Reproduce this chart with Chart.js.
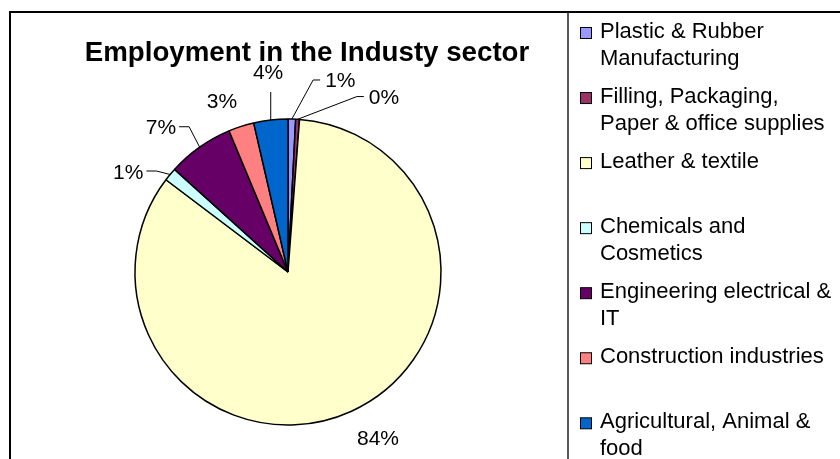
<!DOCTYPE html>
<html>
<head>
<meta charset="utf-8">
<title>Employment in the Industy sector</title>
<script src="https://cdn.jsdelivr.net/npm/chart.js@4.4.0/dist/chart.umd.min.js"></script>
<style>
    html, body { margin: 0; padding: 0; background: #ffffff; }
    #wrap { width: 840px; height: 459px; }
</style>
</head>
<body>
<div id="wrap"><canvas id="myChart" width="840" height="459"></canvas></div>
<script>
var chartTitle = 'Employment in the Industy sector';

// sectors, one entry per slice (legend lines already split)
var sectors = [
    ['Plastic & Rubber', 'Manufacturing'],
    ['Filling, Packaging,', 'Paper & office supplies'],
    ['Leather & textile'],
    ['Chemicals and', 'Cosmetics'],
    ['Engineering electrical &', 'IT'],
    ['Construction industries'],
    ['Agricultural, Animal &', 'food']
];
var shares = [0.8, 0.4, 84.1, 1.4, 7.0, 2.7, 3.6];
var colours = ['#9999FF', '#993366', '#FFFFCC', '#CCFFFF', '#660066', '#FF8080', '#0066CC'];

// where each % label goes: turn (deg) from the slice middle, distance from centre, leader side
var labelSpots = [
    {turn: 13.8, dist: 199, leader: 'right'},
    {turn: 25.1, dist: 200, leader: 'right'},
    {turn: -4.3, dist: 188, leader: null},
    {turn: -7.3, dist: 189, leader: 'left'},
    {turn: -5.9, dist: 193, leader: 'left'},
    {turn: -3.2, dist: 184, leader: null},
    {turn: 0.8, dist: 201, leader: 'up'}
];

var FONT = "'Liberation Sans', Arial, Helvetica, sans-serif";

var framePlugin = {
    id: 'frame',
    beforeDraw: function(chart) {
        var ctx = chart.ctx;
        ctx.save();
        ctx.fillStyle = '#ffffff';
        ctx.fillRect(0, 0, chart.width, chart.height);
        ctx.strokeStyle = '#000000';
        ctx.lineWidth = 2;
        ctx.strokeRect(10, 12, chart.width, chart.height);
        ctx.strokeStyle = '#222222';
        ctx.lineWidth = 1.5;
        ctx.beginPath();
        ctx.moveTo(568, 12);
        ctx.lineTo(568, chart.height);
        ctx.stroke();
        ctx.restore();
    }
};

var pctLabels = {
    id: 'pctLabels',
    afterDatasetsDraw: function(chart) {
        var ctx = chart.ctx;
        var meta = chart.getDatasetMeta(0);
        var data = chart.data.datasets[0].data;
        var total = data.reduce(function(a, b) { return a + b; }, 0);
        ctx.save();
        ctx.font = '21px ' + FONT;
        ctx.fillStyle = '#000000';
        ctx.strokeStyle = '#000000';
        ctx.lineWidth = 1;
        ctx.textAlign = 'center';
        ctx.textBaseline = 'alphabetic';
        meta.data.forEach(function(arc, i) {
            var p = arc.getProps(['x', 'y', 'startAngle', 'endAngle', 'outerRadius'], true);
            var mid = (p.startAngle + p.endAngle) / 2;
            var spot = labelSpots[i];
            var a = mid + spot.turn * Math.PI / 180;
            var lx = p.x + Math.cos(a) * spot.dist;
            var ly = p.y + Math.sin(a) * spot.dist;
            var text = Math.round(data[i] / total * 100) + '%';
            var w = ctx.measureText(text).width;
            ctx.fillText(text, lx, ly + 7.5);

            if (!spot.leader) return;
            var ex = p.x + Math.cos(mid) * p.outerRadius;
            var ey = p.y + Math.sin(mid) * p.outerRadius;
            ctx.beginPath();
            ctx.moveTo(ex, ey);
            if (spot.leader == 'right') {
                ctx.lineTo(lx - w / 2 - 12, ly);
                ctx.lineTo(lx - w / 2 - 5, ly);
            } else if (spot.leader == 'left') {
                ctx.lineTo(lx + w / 2 + 13, ly);
                ctx.lineTo(lx + w / 2 + 3, ly);
            } else {
                ctx.lineTo(ex, ly + 20);
            }
            ctx.stroke();
        });
        ctx.restore();
    }
};

var titleAndKey = {
    id: 'titleAndKey',
    afterDraw: function(chart) {
        var ctx = chart.ctx;
        ctx.save();
        ctx.fillStyle = '#000000';
        ctx.font = 'bold 27.7px ' + FONT;
        ctx.textAlign = 'center';
        ctx.textBaseline = 'alphabetic';
        ctx.fillText(chartTitle, 307, 61);

        // legend on the right, every entry gets a two-line slot
        ctx.font = '22px ' + FONT;
        ctx.textAlign = 'left';
        chart.data.labels.forEach(function(lines, k) {
            var base = 38 + 65.05 * k;
            ctx.fillStyle = colours[k];
            ctx.fillRect(580.5, base - 10.5, 11, 11);
            ctx.strokeStyle = '#000000';
            ctx.lineWidth = 1;
            ctx.strokeRect(580.5, base - 10.5, 11, 11);
            ctx.fillStyle = '#000000';
            lines.forEach(function(line, j) {
                ctx.fillText(line, 600, base + 26.5 * j);
            });
        });
        ctx.restore();
    }
};

function MakeGraph() {
    const chart = document.getElementById('myChart');
    new Chart(chart, {
        type: 'pie',
        data: {
            labels: sectors,
            datasets: [{
                data: shares,
                backgroundColor: colours,
                borderColor: '#000000',
                borderWidth: 1.5
            }]
        },
        options: {
            responsive: false,
            animation: false,
            radius: 153,
            layout: {
                padding: {left: 20, right: 284, top: 100, bottom: 15}
            },
            plugins: {
                legend: {display: false},
                title: {display: false},
                tooltip: {enabled: false}
            }
        },
        plugins: [framePlugin, pctLabels, titleAndKey]
    });
}

window.addEventListener('load', function() {
    MakeGraph();
});
</script>
</body>
</html>
